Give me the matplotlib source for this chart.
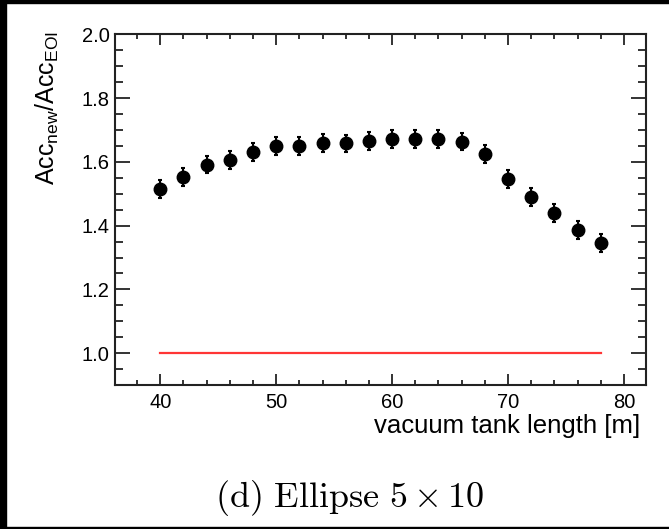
import numpy as np
import matplotlib
matplotlib.use("Agg")
import matplotlib.pyplot as plt
from matplotlib.patches import Rectangle
from matplotlib.ticker import MultipleLocator

plt.rcParams['font.family'] = ['Liberation Sans', 'DejaVu Sans']
plt.rcParams['mathtext.default'] = 'regular'

# tank length [m] and acceptance ratio
length = [40, 42, 44, 46, 48, 50, 52, 54, 56, 58,
          60, 62, 64, 66, 68, 70, 72, 74, 76, 78]
ratio = [1.516, 1.553, 1.592, 1.606, 1.631, 1.650, 1.650, 1.660, 1.658, 1.665,
         1.671, 1.673, 1.671, 1.664, 1.624, 1.547, 1.491, 1.440, 1.386, 1.346]
ratio_err = [0.028, 0.028, 0.028, 0.028, 0.028, 0.028, 0.028, 0.028, 0.028, 0.028,
             0.028, 0.028, 0.028, 0.028, 0.028, 0.028, 0.028, 0.028, 0.028, 0.028]
ref_x = [40, 78]
ref_y = [1.0, 1.0]

fig = plt.figure(figsize=(6.69, 5.29), dpi=100)
ax = fig.add_axes([0.1719, 0.2722, 0.7937, 0.6626])

ax.plot(ref_x, ref_y, color='#ff3535', lw=1.6)
ax.errorbar(length, ratio, yerr=ratio_err, fmt='o', color='black',
            ms=9, elinewidth=1.5, capsize=1.5, capthick=1.5)

ax.set_xlim(36.1, 81.9)
ax.set_ylim(0.9, 2.0)
ax.xaxis.set_major_locator(MultipleLocator(10))
ax.xaxis.set_minor_locator(MultipleLocator(2))
ax.yaxis.set_major_locator(MultipleLocator(0.2))
ax.yaxis.set_minor_locator(MultipleLocator(0.05))
ax.yaxis.set_major_formatter(matplotlib.ticker.FormatStrFormatter('%.1f'))

ax.tick_params(which='both', direction='in', top=True, right=True,
               width=1.4, color='#333333', labelsize=14.5)
ax.tick_params(axis='x', which='major', length=8, pad=6)
ax.tick_params(axis='x', which='minor', length=3.6)
ax.tick_params(axis='y', which='major', length=10.8, pad=4)
ax.tick_params(axis='y', which='minor', length=5.8)
for sp in ax.spines.values():
    sp.set_linewidth(1.5)
    sp.set_color('#222222')

ax.set_xlabel('vacuum tank length [m]', fontsize=18.5)
ax.xaxis.label.set_horizontalalignment('right')
ax.xaxis.set_label_coords(0.99, -0.083)
fig.text(47 / 669, 1 - 31 / 529, 'Acc$_{new}$/Acc$_{EOI}$', rotation=90,
         ha='center', va='top', fontsize=18)

fig.text(350 / 669, 1 - 498 / 529, r'$\mathrm{(d)\ Ellipse\ 5\times10}$',
         math_fontfamily='cm', ha='center', va='center', fontsize=26)

# black frame of the screenshot
fig.patches.append(Rectangle((0, 0), 6 / 669, 1, transform=fig.transFigure,
                             color='black', zorder=10))
fig.patches.append(Rectangle((0, 1 - 3 / 529), 1, 3 / 529, transform=fig.transFigure,
                             color='black', zorder=10))
fig.patches.append(Rectangle((0, 0), 1, 2 / 529, transform=fig.transFigure,
                             color='black', zorder=10))

fig.savefig('out.png', dpi=100)
